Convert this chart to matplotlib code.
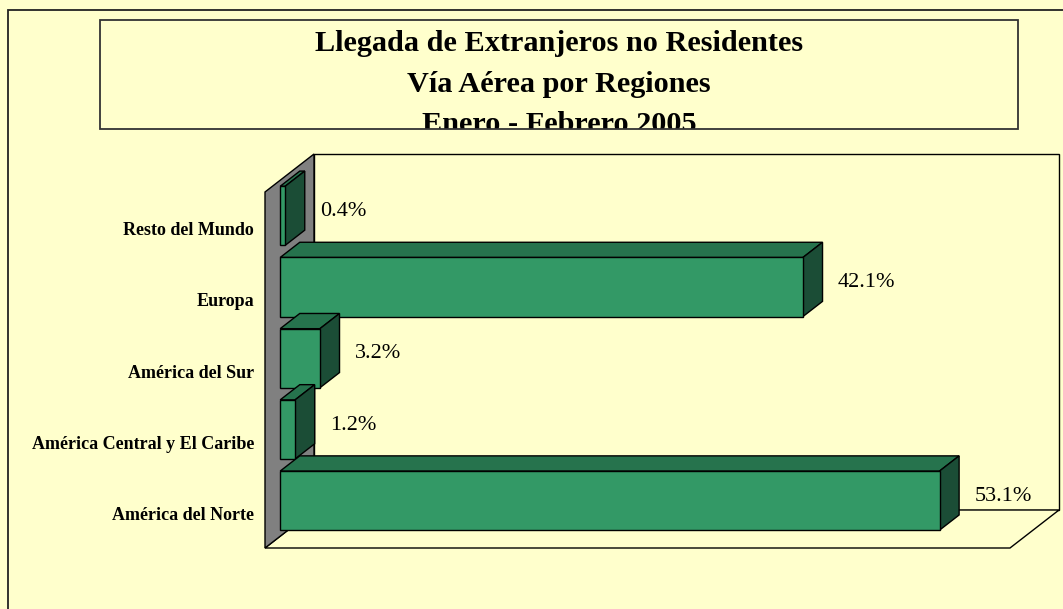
import matplotlib
matplotlib.use("Agg")
import matplotlib.pyplot as plt
from matplotlib.patches import Polygon, Rectangle
from matplotlib.transforms import ScaledTranslation

# ---------------- data ----------------
categories = ["América del Norte", "América Central y El Caribe",
              "América del Sur", "Europa", "Resto del Mundo"]
values = [53.1, 1.2, 3.2, 42.1, 0.4]
value_labels = ["53.1%", "1.2%", "3.2%", "42.1%", "0.4%"]
title_lines = ["Llegada de Extranjeros no Residentes",
               "Vía Aérea por Regiones",
               "Enero - Febrero 2005"]
x_max = 60

# ---------------- style ----------------
BG = "#FFFFCC"
FRONT = "#339966"
TOP = "#26734D"
SIDE = "#1B4D36"
WALL = "#808080"
SERIF = ["Liberation Serif", "DejaVu Serif"]

W, H, DPI = 1063, 609, 100
fig = plt.figure(figsize=(W / DPI, H / DPI), dpi=DPI)
fig.patch.set_facecolor(BG)

def fx(px):
    return px / W

def fy(py):
    return 1 - py / H

# outer frame (continues beyond the picture on the right and bottom)
fig.add_artist(Rectangle((fx(8), fy(640)), fx(1100) - fx(8), fy(10) - fy(640),
                         transform=fig.transFigure, facecolor="none",
                         edgecolor="#222222", lw=1.3))

# title box
tbox = Rectangle((fx(100), fy(129)), fx(1018) - fx(100), fy(20) - fy(129),
                 transform=fig.transFigure, facecolor="none",
                 edgecolor="#333333", lw=1.3, zorder=5)
fig.add_artist(tbox)
for line, base in zip(title_lines, [51, 92, 132]):
    t = fig.text(fx(559), fy(base), line, ha="center", va="baseline",
                 fontsize=21.8, fontweight="bold", family=SERIF, color="black")
    t.set_clip_path(tbox)

# main axes = front plane of the 3D box
ax = fig.add_axes([fx(265), fy(548), fx(1010) - fx(265), fy(192) - fy(548)])
ax.set_xlim(0, x_max)
ax.set_ylim(-0.5, len(categories) - 0.5)
ax.patch.set_visible(False)
for s in ax.spines.values():
    s.set_visible(False)
ax.set_xticks([])

# pixel -> data conversions for the 3D depth
p0 = ax.transData.transform((0, 0))
p1 = ax.transData.transform((1, 1))
px_x, px_y = p1[0] - p0[0], p1[1] - p0[1]
DEPTH_X, DEPTH_Y = 49 / px_x, 38 / px_y
d1, d2 = 0.31, 0.71
bar_h = 0.83

def P(x, y, d):
    return (x + d * DEPTH_X, y + d * DEPTH_Y)

ylo, yhi = -0.5, len(categories) - 0.5

def poly(pts, fc, z, lw=1.0):
    ax.add_patch(Polygon(pts, closed=True, facecolor=fc, edgecolor="black",
                         lw=lw, zorder=z, clip_on=False))

# back wall
poly([P(0, ylo, 1), P(x_max, ylo, 1), P(x_max, yhi, 1), P(0, yhi, 1)], BG, 1)
# floor
poly([P(0, ylo, 0), P(x_max, ylo, 0), P(x_max, ylo, 1), P(0, ylo, 1)], BG, 1.5)
# left wall
poly([P(0, ylo, 0), P(0, ylo, 1), P(0, yhi, 1), P(0, yhi, 0)], WALL, 2)

# bars, drawn from the top category down
z = 3
for i in range(len(categories) - 1, -1, -1):
    v = values[i]
    y0, y1 = i - bar_h / 2, i + bar_h / 2
    poly([P(0, y1, d1), P(v, y1, d1), P(v, y1, d2), P(0, y1, d2)], TOP, z)
    poly([P(v, y0, d1), P(v, y0, d2), P(v, y1, d2), P(v, y1, d1)], SIDE, z)
    poly([P(0, y0, d1), P(v, y0, d1), P(v, y1, d1), P(0, y1, d1)], FRONT, z)
    z += 1

# value labels
lab_off = ScaledTranslation((15 + 35) / DPI, 11.6 / DPI, fig.dpi_scale_trans)
for i, (v, lab) in enumerate(zip(values, value_labels)):
    ax.text(v, i, lab, transform=ax.transData + lab_off, ha="left",
            va="baseline", fontsize=16, family=SERIF, color="black",
            clip_on=False, zorder=20)

# category labels
ax.set_yticks(range(len(categories)))
ax.set_yticklabels(categories)
ax.tick_params(axis="y", length=0, pad=8)
cat_off = ScaledTranslation(0, -7.5 / DPI, fig.dpi_scale_trans)
for tl in ax.get_yticklabels():
    tl.set_fontsize(13)
    tl.set_fontweight("bold")
    tl.set_family(SERIF)
    tl.set_verticalalignment("baseline")
    tl.set_transform(tl.get_transform() + cat_off)

fig.savefig("out.png", dpi=DPI, facecolor=BG)
